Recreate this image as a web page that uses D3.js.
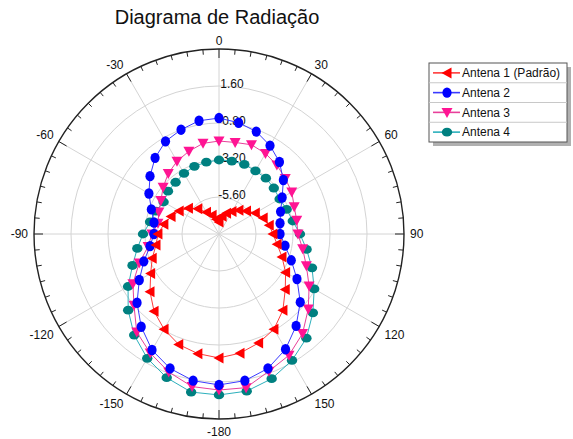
<!DOCTYPE html>
<html>
<head>
<meta charset="utf-8">
<script src="https://cdn.jsdelivr.net/npm/d3@7"></script>
<style>
  html, body { margin: 0; padding: 0; background: #fff; }
  svg { display: block; font-family: "Liberation Sans", Arial, sans-serif; }
</style>
</head>
<body>
<svg id="chart" width="573" height="439"></svg>
<script>
// ---------------- DATA ----------------
const title = "Diagrama de Radiação";
const angles = [0,10,20,30,40,50,60,70,80,90,100,110,120,130,140,150,160,170,
                180,190,200,210,220,230,240,250,260,270,280,290,300,310,320,330,340,350];
const seriesNames = ["Antena 1 (Padrão)", "Antena 2", "Antena 3", "Antena 4"];
const antena1 = [-7.22,-6.83,-6.57,-6.31,-5.99,-5.67,-5.28,-4.95,-4.69,-4.50,-4.17,-3.65,
                 -3.01,-2.39,-1.55,-0.87,-0.48,-0.15,0.04,-0.12,-0.37,-0.87,-1.45,-2.16,
                 -2.88,-3.39,-3.85,-4.04,-4.37,-4.69,-5.02,-5.41,-5.86,-6.38,-6.70,-7.03];
const antena2 = [-0.48,-0.67,-0.93,-1.38,-1.90,-2.55,-3.27,-3.75,-3.98,-4.04,-3.65,-3.01,
                 -2.16,-1.12,-0.22,0.63,1.28,1.66,1.79,1.66,1.28,0.69,-0.15,-1.06,
                 -2.03,-2.81,-3.46,-3.78,-3.72,-3.33,-2.75,-2.16,-1.55,-1.06,-0.80,-0.54];
const antena3 = [-1.97,-1.97,-1.84,-1.97,-2.16,-2.39,-2.55,-2.81,-2.88,-2.88,-2.49,-1.97,
                 -1.25,-0.44,0.43,1.08,1.47,2.12,2.12,2.05,1.53,0.92,0.30,-0.80,
                 -1.55,-2.49,-3.33,-3.65,-3.98,-3.85,-3.65,-3.27,-2.88,-2.55,-2.29,-2.03];
const antena4 = [-3.20,-3.20,-3.20,-3.27,-3.27,-3.36,-3.46,-3.33,-3.14,-2.75,-2.23,-1.58,
                 -0.87,-0.05,0.82,1.47,1.99,2.35,2.44,2.41,1.92,1.31,0.56,-0.31,
                 -1.19,-2.03,-2.62,-3.07,-3.46,-3.65,-3.85,-3.68,-3.62,-3.46,-3.33,-3.27];
const radialDomain = [-8, 4];
const radialTicks = [-5.6, -3.2, -0.8, 1.6];
const ringValues = [-5.6, -3.2, -0.8, 1.6];
const angleLabels = [0,30,60,90,120,150,180,210,240,270,300,330];
const angleLabelText = ["0","30","60","90","120","150","-180","-150","-120","-90","-60","-30"];

// ---------------- LAYOUT ----------------
const svg = d3.select("#chart");
const cx = 219, cy = 234, R = 185;
const rScale = d3.scaleLinear().domain(radialDomain).range([0, R]);
const toRad = d => d * Math.PI / 180;

const styles = [
  {line: "#ff3a3a", fill: "#ff0000", shape: "triLeft"},
  {line: "#3a3aff", fill: "#0000ff", shape: "circle"},
  {line: "#e8409a", fill: "#ff1493", shape: "triDown"},
  {line: "#2cb0bc", fill: "#008080", shape: "hex"}
];
const allSeries = [antena1, antena2, antena3, antena4];

// Title
svg.append("text").attr("x", 217).attr("y", 24).attr("text-anchor", "middle")
  .attr("font-size", 20).attr("fill", "#111").text(title);

const g = svg.append("g").attr("transform", `translate(${cx},${cy})`);

// grid rings
g.selectAll("circle.ring").data(ringValues).enter().append("circle")
  .attr("r", d => rScale(d)).attr("fill", "none").attr("stroke", "#d4d4d4").attr("stroke-width", 1);

// spokes
g.selectAll("line.spoke").data(angleLabels).enter().append("line")
  .attr("x1", 0).attr("y1", 0)
  .attr("x2", d => R * Math.sin(toRad(d))).attr("y2", d => -R * Math.cos(toRad(d)))
  .attr("stroke", "#d4d4d4").attr("stroke-width", 1);

// outer circle
g.append("circle").attr("r", R).attr("fill", "none").attr("stroke", "#222").attr("stroke-width", 1.4);

// ticks
const minor = d3.range(0, 360, 5);
g.selectAll("line.tick").data(minor).enter().append("line")
  .attr("x1", d => R * Math.sin(toRad(d))).attr("y1", d => -R * Math.cos(toRad(d)))
  .attr("x2", d => (R - (d % 30 === 0 ? 9 : 5)) * Math.sin(toRad(d)))
  .attr("y2", d => -(R - (d % 30 === 0 ? 9 : 5)) * Math.cos(toRad(d)))
  .attr("stroke", "#222").attr("stroke-width", 1);

// angle labels
angleLabels.forEach((a, i) => {
  const s = Math.sin(toRad(a)), c = Math.cos(toRad(a));
  const rr = R + 6;
  let x = rr * s, y = -rr * c;
  const anchor = s > 0.3 ? "start" : (s < -0.3 ? "end" : "middle");
  let dy = "0.35em";
  if (c > 0.3) { dy = "0em"; }
  else if (c < -0.3) { dy = "0.75em"; }
  if (a === 0) y += 2;
  if (a === 180) y += 2;
  g.append("text").attr("x", x).attr("y", y).attr("dy", dy).attr("text-anchor", anchor)
    .attr("font-size", 12).attr("fill", "#111").text(angleLabelText[i]);
});

// radial labels
g.selectAll("text.rl").data(radialTicks).enter().append("text")
  .attr("x", 13).attr("y", d => -rScale(d) + 2).attr("text-anchor", "middle")
  .attr("font-size", 12).attr("fill", "#111").text(d => d.toFixed(2));

// markers
function drawMarker(sel, shape, fill) {
  if (shape === "circle") {
    sel.append("ellipse").attr("rx", 4.6).attr("ry", 5.2).attr("fill", fill);
  } else if (shape === "hex") {
    sel.append("ellipse").attr("rx", 5.2).attr("ry", 4.4).attr("fill", fill);
  } else if (shape === "triDown") {
    sel.append("path").attr("d", "M-5.5,-4.5 L5.5,-4.5 L0,5.5 Z").attr("fill", fill);
  } else if (shape === "triLeft") {
    sel.append("path").attr("d", "M-5.5,0 L4.5,-5.5 L4.5,5.5 Z").attr("fill", fill);
  }
}

const line = d3.lineRadial()
  .angle(d => toRad(d.a)).radius(d => rScale(d.v)).curve(d3.curveLinearClosed);

// draw in reverse order (Antena 4 first)
[3, 2, 1, 0].forEach(si => {
  const vals = allSeries[si];
  const pts = angles.map((a, i) => ({a: a, v: vals[i]}));
  const st = styles[si];
  g.append("path").datum(pts).attr("d", line).attr("fill", "none")
    .attr("stroke", st.line).attr("stroke-width", 1);
  const m = g.append("g").selectAll("g").data(pts).enter().append("g")
    .attr("transform", d => `translate(${rScale(d.v) * Math.sin(toRad(d.a))},${-rScale(d.v) * Math.cos(toRad(d.a))})`);
  drawMarker(m, st.shape, st.fill);
});

// legend
const lx = 429, ly = 63, lw = 138, lh = 79;
svg.append("rect").attr("x", lx + 4).attr("y", ly + 4).attr("width", lw).attr("height", lh).attr("fill", "#b0b0b0");
svg.append("rect").attr("x", lx).attr("y", ly).attr("width", lw).attr("height", lh)
  .attr("fill", "#fff").attr("stroke", "#555").attr("stroke-width", 1);
const rowH = lh / 4;
seriesNames.forEach((name, i) => {
  const yMid = ly + rowH * i + rowH / 2;
  if (i > 0) {
    svg.append("line").attr("x1", lx).attr("x2", lx + lw)
      .attr("y1", ly + rowH * i).attr("y2", ly + rowH * i)
      .attr("stroke", "#c8c8c8").attr("stroke-width", 1);
  }
  svg.append("line").attr("x1", lx + 4).attr("x2", lx + 31).attr("y1", yMid).attr("y2", yMid)
    .attr("stroke", styles[i].line).attr("stroke-width", 1.6);
  const mg = svg.append("g").attr("transform", `translate(${lx + 18},${yMid})`);
  drawMarker(mg, styles[i].shape, styles[i].fill);
  svg.append("text").attr("x", lx + 33).attr("y", yMid).attr("dy", "0.35em")
    .attr("font-size", 12).attr("fill", "#111").text(name);
});
</script>
</body>
</html>
